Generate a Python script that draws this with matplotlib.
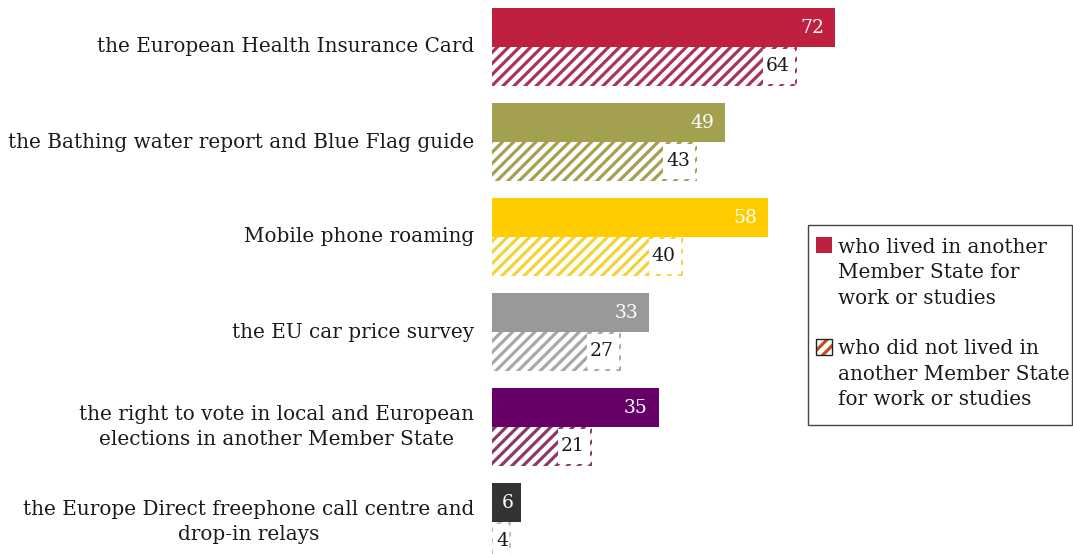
import matplotlib
matplotlib.use("Agg")
import matplotlib.pyplot as plt
from matplotlib.patches import Rectangle

plt.rcParams['font.family'] = ['DejaVu Serif']
plt.rcParams['hatch.linewidth'] = 2.3

categories = [
    "the European Health Insurance Card",
    "the Bathing water report and Blue Flag guide",
    "Mobile phone roaming",
    "the EU car price survey",
    "the right to vote in local and European\nelections in another Member State",
    "the Europe Direct freephone call centre and\ndrop-in relays",
]
lived_abroad = [72, 49, 58, 33, 35, 6]
not_lived_abroad = [64, 43, 40, 27, 21, 4]
colors = ["#C0203F", "#A3A050", "#FFCC00", "#999999", "#660066", "#333333"]
hatch_colors = ["#A8345A", "#A3A050", "#F2D33A", "#A8A8A8", "#8A3A6A", "#BBBBBB"]
legend_labels = ["who lived in another\nMember State for\nwork or studies",
                 "who did not lived in\nanother Member State\nfor work or studies"]

W, H = 1073, 554
fig = plt.figure(figsize=(W / 100, H / 100), dpi=100)

x0 = 492
px_per_unit = 343 / 72.0
xmax = (W - x0) / px_per_unit
grp = 95.0
y_ref = 47.0
ax = fig.add_axes([x0 / W, 0, 1 - x0 / W, 1])
ax.set_xlim(0, xmax)
ax.set_ylim((H - y_ref) / grp, (0 - y_ref) / grp)
ax.axis('off')

bh = 0.41
fs = 14.4
vfs = 13.5
ls = 1.45
txt_color = "#1a1a1a"
fig.canvas.draw()
renderer = fig.canvas.get_renderer()

for i, (cat, a, b, c, hc) in enumerate(zip(categories, lived_abroad, not_lived_abroad, colors, hatch_colors)):
    ax.barh(i - bh / 2, a, height=bh, color=c, linewidth=0)
    ax.barh(i + bh / 2, b, height=bh, facecolor="white", edgecolor=hc, hatch="///", linewidth=0)
    # solid label
    pad = 11 / px_per_unit if a > 10 else 7 / px_per_unit
    ax.text(a - pad, i - bh / 2, str(a), ha='right', va='center', color='white', fontsize=vfs)
    # hatched label with white box
    pad2 = 7 / px_per_unit if b > 10 else 3 / px_per_unit
    t = ax.text(b - pad2, i + bh / 2, str(b), ha='right', va='center', color=txt_color, fontsize=vfs, zorder=5)
    ext = t.get_window_extent(renderer=renderer)
    inv = ax.transData.inverted()
    left = inv.transform((ext.x0, 0))[0] - 3 / px_per_unit
    right = b - 2 / px_per_unit
    ax.add_patch(Rectangle((left, i + 0.02), right - left, bh - 0.04, facecolor='white', edgecolor='none', zorder=4))
    # category label
    ax.text(-18 / px_per_unit, i, cat, ha='right', va='center', multialignment='center',
            color=txt_color, fontsize=fs, linespacing=ls)

# legend in pixel coordinates
lax = fig.add_axes([0, 0, 1, 1], facecolor='none')
lax.set_xlim(0, W)
lax.set_ylim(H, 0)
lax.axis('off')
lax.add_patch(Rectangle((808, 225), 264, 200, facecolor='white', edgecolor='#444444', linewidth=1))
lax.add_patch(Rectangle((816, 237), 16, 16, facecolor=colors[0], edgecolor='none'))
lax.add_patch(Rectangle((816, 339), 16, 16, facecolor='white', edgecolor='#C0501F', hatch='///', linewidth=0))
lax.add_patch(Rectangle((816, 339), 16, 16, facecolor='none', edgecolor='#222222', linewidth=1))
lax.text(838, 273, legend_labels[0], ha='left', va='center', fontsize=fs, color=txt_color, linespacing=ls)
lax.text(838, 374, legend_labels[1], ha='left', va='center', fontsize=fs, color=txt_color, linespacing=ls)

fig.savefig("out.png", dpi=100)
